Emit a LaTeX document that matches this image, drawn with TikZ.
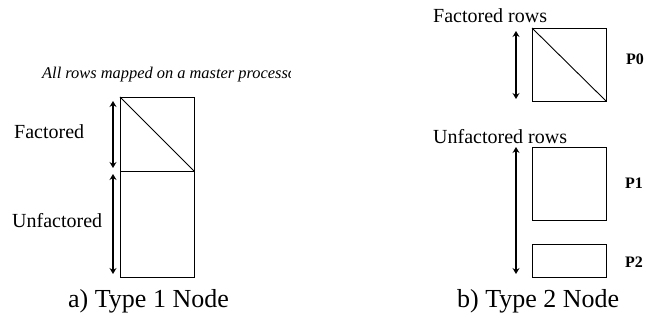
\documentclass[tikz,border=0pt]{standalone}
\usepackage{fontspec}
\setmainfont{Liberation Serif}
\usetikzlibrary{arrows.meta}
\begin{document}
\begin{tikzpicture}[x=1pt,y=-1pt,
  box/.style={draw,line width=0.9pt,inner sep=0pt,outer sep=0pt},
  dim/.style={line width=1.1pt,{Stealth[length=6pt,width=7pt,inset=2pt]}-{Stealth[length=6pt,width=7pt,inset=2pt]}},
  lbl/.style={inner sep=0pt,anchor=west,font=\fontsize{20}{24}\selectfont},
  captxt/.style={inner sep=0pt,anchor=west,font=\fontsize{26}{30}\selectfont},
  proc/.style={inner sep=0pt,anchor=west,font=\fontsize{16}{19}\selectfont\bfseries}]
\useasboundingbox (0,0) rectangle (646,320);
% ---- left: Type 1 node ----
\begin{scope}
\clip (0,60) rectangle (290,90);
\node[inner sep=0pt,anchor=west,font=\fontsize{16.4}{19}\selectfont\itshape] (master) at (42,75) {All rows mapped on a master processor};
\end{scope}
\node[box,minimum width=74pt,minimum height=74pt] (f1) at (157,134) {};
\node[box,minimum width=74pt,minimum height=106pt] (u1) at (157,224) {};
\draw[line width=0.9pt] (f1.north west) -- (f1.south east);
\coordinate (a1t) at (113,101);
\coordinate (a1b) at (113,168);
\coordinate (a2t) at (113,174);
\coordinate (a2b) at (113,274);
\draw[dim] (a1t) -- (a1b);
\draw[dim] (a2t) -- (a2b);
\node[lbl] (fac) at (14,132) {Factored};
\node[lbl] (unf) at (12,221) {Unfactored};
\node[captxt] (capa) at (68,301) {a) Type 1 Node};
% ---- right: Type 2 node ----
\node[lbl] (frows) at (433,16) {Factored rows};
\node[box,minimum width=74pt,minimum height=73pt] (p0) at (569,64.5) {};
\draw[line width=0.9pt] (p0.north west) -- (p0.south east);
\coordinate (b1t) at (516,31);
\coordinate (b1b) at (516,99);
\draw[dim] (b1t) -- (b1b);
\node[proc] (lp0) at (626,59) {P0};
\node[lbl] (urows) at (433,137) {Unfactored rows};
\node[box,minimum width=74pt,minimum height=73pt] (p1) at (569,183.5) {};
\node[box,minimum width=74pt,minimum height=33pt] (p2) at (569,260.5) {};
\coordinate (b2t) at (516,147);
\coordinate (b2b) at (516,274);
\draw[dim] (b2t) -- (b2b);
\node[proc] (lp1) at (625,183) {P1};
\node[proc] (lp2) at (625,262) {P2};
\node[captxt] (capb) at (457,301) {b) Type 2 Node};
\end{tikzpicture}
\end{document}
